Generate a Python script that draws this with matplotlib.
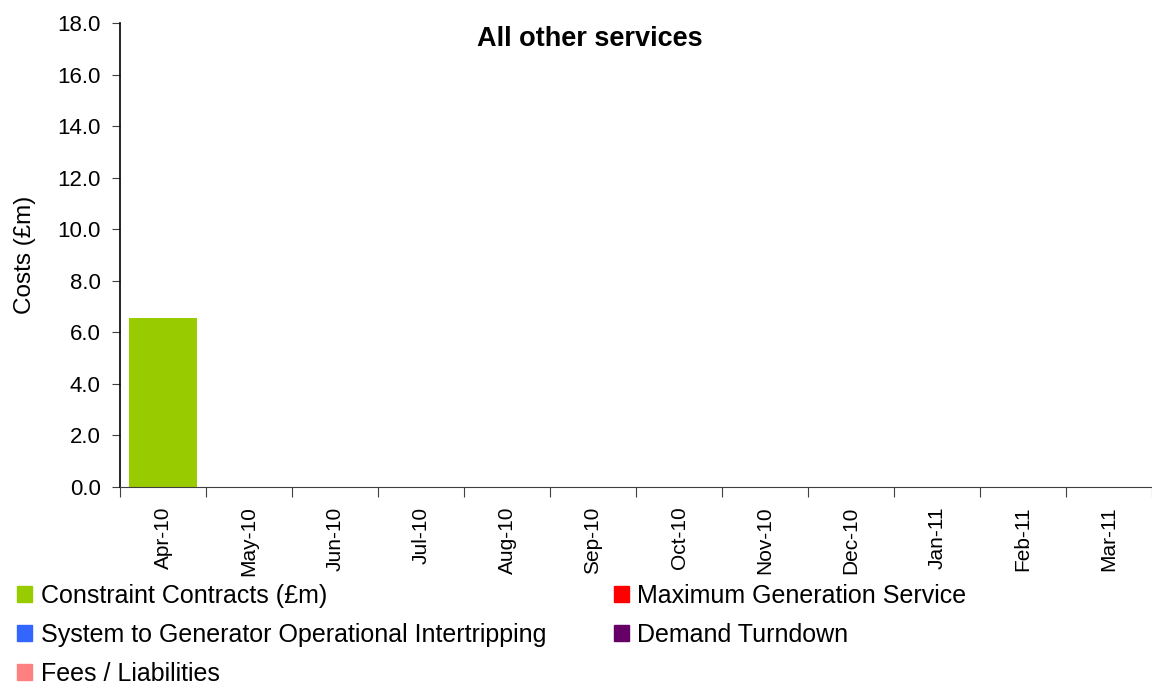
import numpy as np
import matplotlib.pyplot as plt
import matplotlib.patches as patches

# --- Data ---
months = ['Apr-10', 'May-10', 'Jun-10', 'Jul-10', 'Aug-10', 'Sep-10',
          'Oct-10', 'Nov-10', 'Dec-10', 'Jan-11', 'Feb-11', 'Mar-11']
constraint = [6.55, 0, 0, 0, 0, 0, 0, 0, 0, 0, 0, 0]
max_gen = [0] * 12
intertrip = [0] * 12
demand_turn = [0] * 12
fees = [0] * 12

series = [
    ('Constraint Contracts (£m)', constraint, '#99CC00'),
    ('Maximum Generation Service', max_gen, '#FF0000'),
    ('System to Generator Operational Intertripping', intertrip, '#3366FF'),
    ('Demand Turndown', demand_turn, '#660066'),
    ('Fees / Liabilities', fees, '#FF8080'),
]

plt.rcParams['font.family'] = ['Liberation Sans', 'DejaVu Sans']

fig = plt.figure(figsize=(11.52, 6.86), dpi=100)
ax = fig.add_axes([0.1042, 0.290, 0.8958, 0.6765])

x = np.arange(len(months))
bottom = np.zeros(len(months))
for name, vals, col in series:
    ax.bar(x, vals, width=0.78, bottom=bottom, color=col, label=name)
    bottom += np.array(vals)

ax.set_xlim(-0.5, len(months) - 0.5)
ax.set_ylim(0, 18)
ax.set_yticks(np.arange(0, 18.1, 2))
ax.set_yticklabels([f'{v:.1f}' for v in np.arange(0, 18.1, 2)], fontsize=16)

# boundaries as major ticks, labels on centres
ax.set_xticks(np.arange(-0.5, len(months), 1))
ax.set_xticklabels([])
ax.set_xticks(x, minor=True)
ax.set_xticklabels(months, minor=True, rotation=90, fontsize=15)
ax.tick_params(axis='x', which='minor', length=0, pad=14)
ax.tick_params(axis='x', which='major', length=7, color='#404040')
ax.tick_params(axis='y', length=6, color='#404040', pad=8)

for s in ['top', 'right']:
    ax.spines[s].set_visible(False)
ax.spines['left'].set_linewidth(1.2)
ax.spines['bottom'].set_color('#404040')

ax.set_ylabel('Costs (£m)', fontsize=17.5, labelpad=15)
ax.text(0.455, 0.965, 'All other services', transform=ax.transAxes,
        ha='center', va='center', fontsize=19.5, fontweight='bold')

# legend, order: col1 rows then col2
handles = [patches.Patch(color=c) for _, _, c in series]
labels = [n for n, _, _ in series]
order = [0, 2, 4, 1, 3]
fig.legend([handles[i] for i in order], [labels[i] for i in order],
           loc='upper left', bbox_to_anchor=(0.006, 0.163), ncol=2,
           frameon=False, fontsize=18, handlelength=0.6, handleheight=0.6,
           handletextpad=0.35, columnspacing=2.7, labelspacing=0.6,
           borderaxespad=0)

fig.savefig('out.png', dpi=100, facecolor='white')
